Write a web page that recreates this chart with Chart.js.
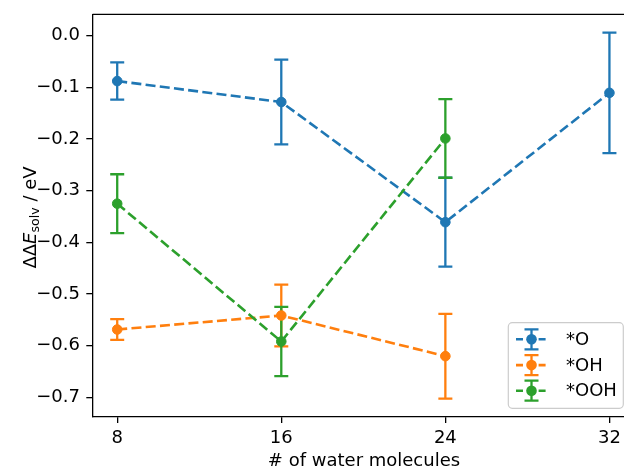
<!DOCTYPE html>
<html>
<head>
<meta charset="utf-8">
<script src="https://cdn.jsdelivr.net/npm/chart.js@4.4.1/dist/chart.umd.min.js"></script>
<style>
  html, body { margin: 0; padding: 0; background: #fff; overflow: hidden; }
  canvas { display: block; }
</style>
</head>
<body>
<canvas id="chart" width="624" height="467"></canvas>
<script>
// valores (ΔΔE_solv em eV, barras de erro simétricas)
const waterCounts = [8, 16, 24, 32];
const seriesLabels = ["*O", "*OH", "*OOH"];
const oValues = [-0.088, -0.1285, -0.361, -0.1107];
const oErrors = [0.036, 0.082, 0.086, 0.1165];
const ohValues = [-0.5686, -0.5415, -0.6202];
const ohErrors = [0.020, 0.0596, 0.082];
const oohValues = [-0.3252, -0.5918, -0.199];
const oohErrors = [0.057, 0.067, 0.076];
const xTicks = [8, 16, 24, 32];
const yTicks = [0.0, -0.1, -0.2, -0.3, -0.4, -0.5, -0.6, -0.7];
const xTitle = "# of water molecules";

const FONT = "'DejaVu Sans', sans-serif";
const FS = 18;
const COLORS = ["#1f77b4", "#ff7f0e", "#2ca02c"];
const DASH = [10, 4.3];
const LW = 2.6;

function toPoints(values) {
  return values.map((v, i) => ({ x: waterCounts[i], y: v }));
}

function makeDataset(idx, values, errors, order) {
  const c = COLORS[idx];
  return {
    label: seriesLabels[idx],
    data: toPoints(values),
    errors: errors,
    borderColor: c,
    backgroundColor: c,
    borderWidth: LW,
    borderDash: DASH,
    pointRadius: 4.8,
    pointBorderWidth: 1,
    pointBackgroundColor: c,
    pointBorderColor: c,
    tension: 0,
    order: order
  };
}

// barras de erro desenhadas por baixo das linhas
const errorBars = {
  id: "errorBars",
  beforeDatasetsDraw(chart) {
    const ctx = chart.ctx;
    const xs = chart.scales.x;
    const ys = chart.scales.y;
    ctx.save();
    chart.data.datasets.forEach((ds) => {
      ctx.strokeStyle = ds.borderColor;
      ctx.lineWidth = 2.3;
      ctx.setLineDash([]);
      ds.data.forEach((p, i) => {
        const e = ds.errors[i];
        const px = xs.getPixelForValue(p.x);
        const top = ys.getPixelForValue(p.y + e);
        const bot = ys.getPixelForValue(p.y - e);
        ctx.beginPath();
        ctx.moveTo(px, top);
        ctx.lineTo(px, bot);
        ctx.moveTo(px - 7, top);
        ctx.lineTo(px + 7, top);
        ctx.moveTo(px - 7, bot);
        ctx.lineTo(px + 7, bot);
        ctx.stroke();
      });
    });
    ctx.restore();
  }
};

// moldura superior, títulos dos eixos e legenda
const decorations = {
  id: "decorations",
  afterDraw(chart) {
    const ctx = chart.ctx;
    const area = chart.chartArea;
    ctx.save();

    ctx.strokeStyle = "#000";
    ctx.lineWidth = 1.3;
    ctx.beginPath();
    ctx.moveTo(area.left, area.top);
    ctx.lineTo(area.right, area.top);
    ctx.stroke();

    // título do eixo x
    ctx.fillStyle = "#000";
    ctx.font = FS + "px " + FONT;
    ctx.textAlign = "center";
    ctx.textBaseline = "alphabetic";
    ctx.fillText(xTitle, 364, 466);

    // ΔΔE_solv / eV
    const parts = [
      { t: "\u0394\u0394", f: FS + "px " + FONT, dy: 0 },
      { t: "E", f: "italic " + FS + "px " + FONT, dy: 0 },
      { t: "solv", f: "12.6px " + FONT, dy: 3.5 },
      { t: " / eV", f: FS + "px " + FONT, dy: 0 }
    ];
    let total = 0;
    parts.forEach((p) => { ctx.font = p.f; p.w = ctx.measureText(p.t).width; total += p.w; });
    ctx.translate(35.5, (area.top + area.bottom) / 2 + 2);
    ctx.rotate(-Math.PI / 2);
    ctx.textAlign = "left";
    let x = -total / 2;
    parts.forEach((p) => { ctx.font = p.f; ctx.fillText(p.t, x, p.dy); x += p.w; });
    ctx.setTransform(1, 0, 0, 1, 0, 0);

    // legenda
    const boxL = area.right - 115.7;
    const boxT = area.bottom - 94;
    const boxW = 115;
    const boxH = 85.6;
    ctx.beginPath();
    ctx.roundRect(boxL, boxT, boxW, boxH, 4);
    ctx.fillStyle = "rgba(255,255,255,0.8)";
    ctx.fill();
    ctx.strokeStyle = "#cccccc";
    ctx.lineWidth = 1.2;
    ctx.stroke();

    const rows = [boxT + 16.6, boxT + 42.4, boxT + 68];
    chart.data.datasets.forEach((ds, i) => {
      const y = rows[i];
      const hx0 = boxL + 7.7;
      const hx1 = hx0 + 31;
      const cx = (hx0 + hx1) / 2;
      ctx.strokeStyle = ds.borderColor;
      ctx.lineWidth = LW;
      ctx.setLineDash([7, 4.3]);
      ctx.beginPath();
      ctx.moveTo(hx0, y);
      ctx.lineTo(hx1, y);
      ctx.stroke();
      ctx.setLineDash([]);
      ctx.lineWidth = 2.3;
      ctx.beginPath();
      ctx.moveTo(cx, y - 10);
      ctx.lineTo(cx, y + 10);
      ctx.moveTo(cx - 7, y - 10);
      ctx.lineTo(cx + 7, y - 10);
      ctx.moveTo(cx - 7, y + 10);
      ctx.lineTo(cx + 7, y + 10);
      ctx.stroke();
      ctx.beginPath();
      ctx.arc(cx, y, 5.3, 0, Math.PI * 2);
      ctx.fillStyle = ds.borderColor;
      ctx.fill();
      ctx.fillStyle = "#000";
      ctx.font = FS + "px " + FONT;
      ctx.textAlign = "left";
      ctx.textBaseline = "middle";
      ctx.fillText(ds.label, boxL + 57.7, y + 1);
    });
    ctx.restore();
  }
};

document.addEventListener("DOMContentLoaded", () => {
  const ctx = document.getElementById("chart").getContext("2d");
  new Chart(ctx, {
    type: "line",
    data: {
      datasets: [
        makeDataset(0, oValues, oErrors, 3),
        makeDataset(1, ohValues, ohErrors, 2),
        makeDataset(2, oohValues, oohErrors, 1)
      ]
    },
    options: {
      responsive: false,
      animation: false,
      devicePixelRatio: 1,
      layout: { autoPadding: false, padding: { top: 14.3, left: 0, right: 0, bottom: 0 } },
      scales: {
        x: {
          type: "linear",
          min: 6.8,
          max: 32.71,
          afterBuildTicks: (s) => { s.ticks = xTicks.map((v) => ({ value: v })); },
          afterFit: (s) => {
            s.height = 50.3;
            s.paddingLeft = 0;
            s.paddingRight = 0;
          },
          grid: { drawOnChartArea: false, drawTicks: true, tickLength: 6.3, color: "#000", lineWidth: 1.3 },
          border: { display: true, color: "#000", width: 1.3 },
          ticks: {
            color: "#000",
            font: { family: FONT, size: FS },
            padding: 5,
            maxRotation: 0,
            autoSkip: false,
            callback: (v) => String(v)
          }
        },
        y: {
          min: -0.7373,
          max: 0.0412,
          afterBuildTicks: (s) => { s.ticks = yTicks.map((v) => ({ value: v })); },
          afterFit: (s) => {
            s.width = 92.6;
            s.paddingTop = 0;
            s.paddingBottom = 0;
          },
          grid: { drawOnChartArea: false, drawTicks: true, tickLength: 6.3, color: "#000", lineWidth: 1.3 },
          border: { display: true, color: "#000", width: 1.3 },
          ticks: {
            color: "#000",
            font: { family: FONT, size: FS },
            padding: 6.3,
            autoSkip: false,
            callback: (v) => (Math.abs(v) < 1e-9 ? "0.0" : "\u2212" + Math.abs(v).toFixed(1))
          }
        }
      },
      plugins: {
        legend: { display: false },
        tooltip: { enabled: false }
      }
    },
    plugins: [errorBars, decorations]
  });
});
</script>
</body>
</html>
